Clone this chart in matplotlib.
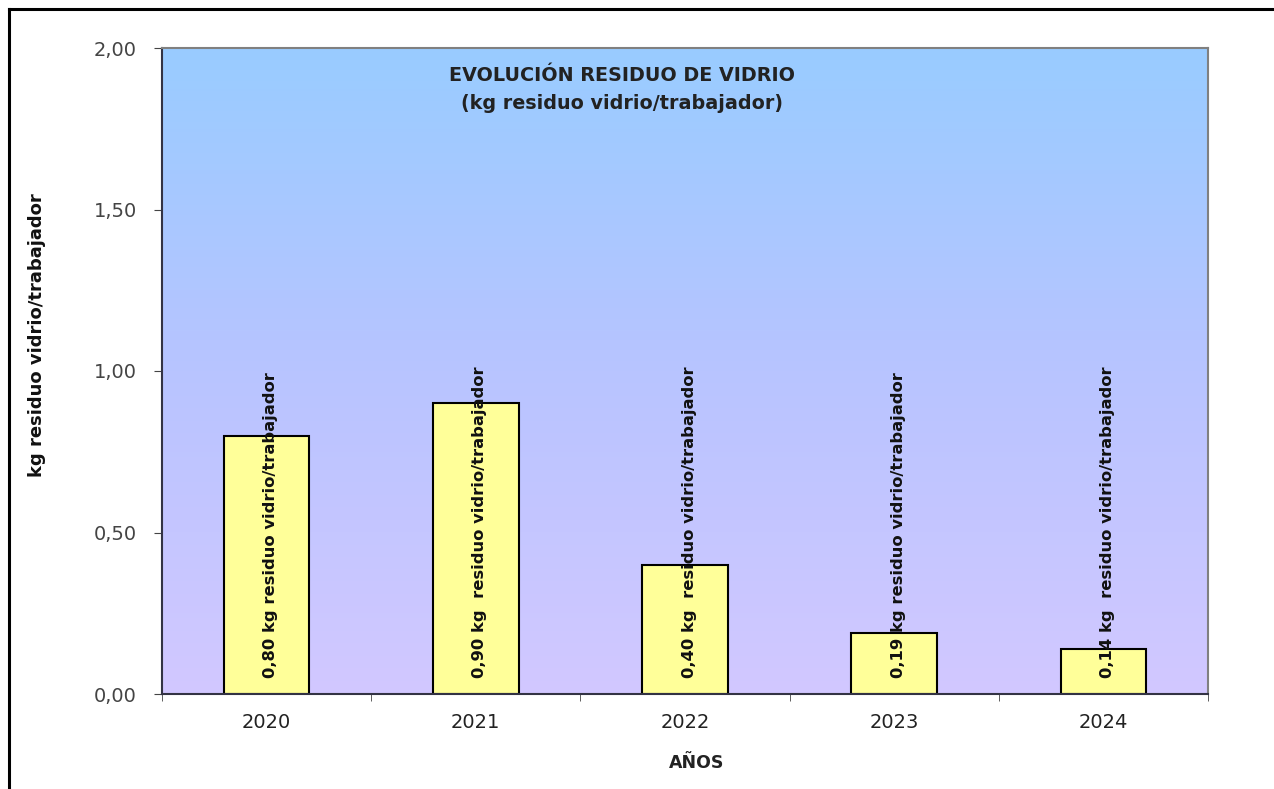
import numpy as np
import matplotlib
matplotlib.use("Agg")
import matplotlib.pyplot as plt
from matplotlib.colors import LinearSegmentedColormap
from matplotlib.lines import Line2D

years = ["2020", "2021", "2022", "2023", "2024"]
values = [0.80, 0.90, 0.40, 0.19, 0.14]
bar_labels = ["0,80 kg residuo vidrio/trabajador",
              "0,90 kg  residuo vidrio/trabajador",
              "0,40 kg  residuo vidrio/trabajador",
              "0,19 kg residuo vidrio/trabajador",
              "0,14 kg  residuo vidrio/trabajador"]
yticks = [0.0, 0.5, 1.0, 1.5, 2.0]
ytick_labels = ["0,00", "0,50", "1,00", "1,50", "2,00"]

fig = plt.figure(figsize=(12.74, 7.89), dpi=100)
ax = fig.add_axes([162 / 1274, 1 - 694 / 789, 1046 / 1274, 646 / 789])

# gradient background
cmap = LinearSegmentedColormap.from_list(
    "bg", [(0.0, "#d2c8ff"), (0.5, "#b8c4ff"), (1.0, "#99ccff")])
grad = np.linspace(0, 1, 256).reshape(-1, 1)
ax.imshow(grad, cmap=cmap, aspect="auto", origin="lower",
          extent=[-0.5, 4.5, 0, 2.0], zorder=0)

x = np.arange(len(years))
ax.bar(x, values, width=0.41, color="#ffff99", edgecolor="black",
       linewidth=1.5, zorder=2)

for xi, lab in zip(x, bar_labels):
    ax.text(xi + 0.02, 0.05, lab, rotation=90, ha="center", va="bottom",
            fontsize=11.8, fontweight="semibold", color="#111111", zorder=3)

ax.set_xlim(-0.5, 4.5)
ax.set_ylim(0, 2.0)
ax.set_yticks(yticks)
ax.set_yticklabels(ytick_labels, fontsize=14, color="#444444")
ax.set_xticks(x)
ax.set_xticklabels(years, fontsize=14, color="#222222")
ax.tick_params(axis="x", length=0, pad=14)
ax.set_xticks(np.arange(-0.5, 5.0, 1.0), minor=True)
ax.tick_params(axis="x", which="minor", length=5, direction="out", color="#444444")
ax.tick_params(axis="y", length=6, direction="out", color="#444444", pad=12)

for s in ["left", "bottom"]:
    ax.spines[s].set_color("#333344")
    ax.spines[s].set_linewidth(1.5)
for s in ["top", "right"]:
    ax.spines[s].set_color("#808080")
    ax.spines[s].set_linewidth(1.5)

ax.text(0.44, 0.972, "EVOLUCIÓN RESIDUO DE VIDRIO\n(kg residuo vidrio/trabajador)",
        transform=ax.transAxes, ha="center", va="top", fontsize=13.8,
        fontweight="bold", color="#222222", linespacing=1.6)

fig.text(37 / 1274, 1 - 335 / 789, "kg residuo vidrio/trabajador", rotation=90,
         ha="center", va="center", fontsize=13, fontweight="bold", color="#111111")
fig.text(697 / 1274, 1 - 763 / 789, "AÑOS", ha="center", va="center",
         fontsize=12.5, fontweight="bold", color="#222222")

# outer frame (left and top edges)
fig.add_artist(Line2D([9 / 1274, 9 / 1274], [0, 1 - 9 / 789],
                      transform=fig.transFigure, color="black", linewidth=2.2))
fig.add_artist(Line2D([9 / 1274, 1], [1 - 9 / 789, 1 - 9 / 789],
                      transform=fig.transFigure, color="black", linewidth=2.2))

fig.savefig("out.png", dpi=100)
